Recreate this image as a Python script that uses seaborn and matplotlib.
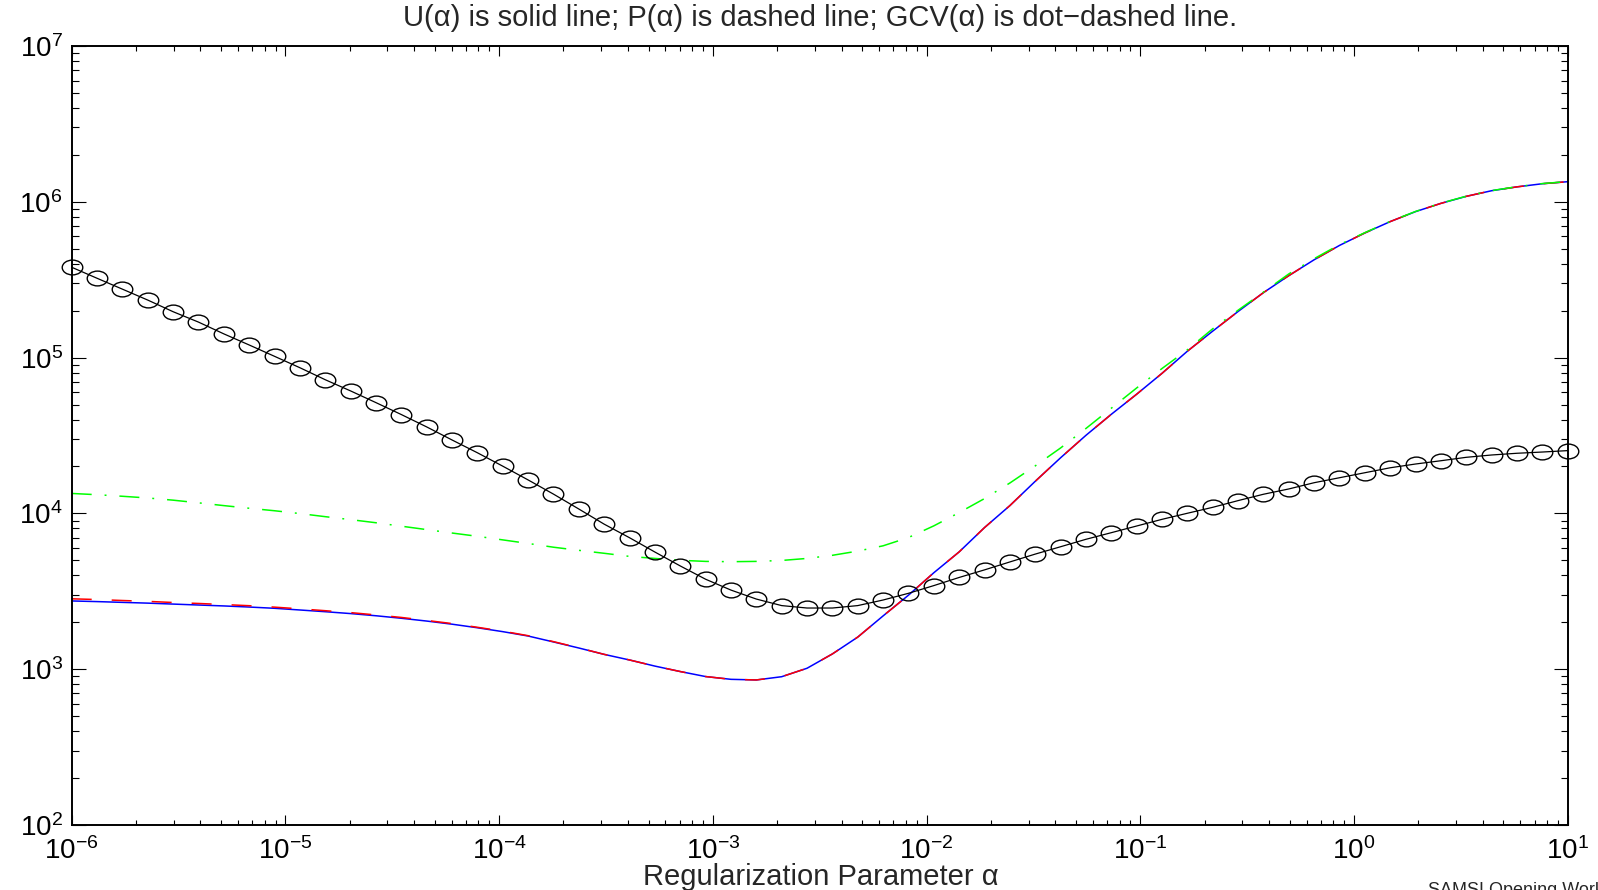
import numpy as np
import pandas as pd
import matplotlib
matplotlib.use("Agg")
import matplotlib.pyplot as plt
import seaborn as sns
from matplotlib.path import Path
from matplotlib.transforms import Affine2D
from matplotlib.ticker import LogLocator, NullFormatter, LogFormatterSciNotation

# Regularization parameter grid (60 log-spaced values, 1e-6 .. 1e1)
alpha = np.logspace(-6, 1, 60)

# U(alpha): solid blue
U = [2742, 2716, 2685, 2655, 2618, 2582, 2547, 2506, 2460, 2399,
     2339, 2275, 2203, 2123, 2037, 1945, 1845, 1742, 1633, 1496,
     1368, 1245, 1146, 1047, 966, 897, 861, 853, 895, 1014,
     1253, 1607, 2198, 2985, 4159, 5662, 8110, 11220, 16070, 22750,
     31700, 43250, 58210, 79250, 109900, 147900, 197700, 261200, 335700, 424600,
     524800, 631000, 746400, 865000, 977200, 1084000, 1178000, 1247000, 1306000, 1346000]

# P(alpha): dashed red
P = [2830, 2800, 2760, 2725, 2680, 2642, 2600, 2556, 2502, 2440,
     2374, 2308, 2230, 2149, 2056, 1963, 1858, 1754, 1641, 1503,
     1371, 1245, 1146, 1047, 966, 897, 861, 853, 895, 1014,
     1253, 1607, 2198, 2985, 4159, 5662, 8110, 11220, 16070, 22750,
     31700, 43250, 58210, 79250, 109900, 147900, 197700, 261200, 335700, 424600,
     524800, 631000, 746400, 865000, 977200, 1084000, 1178000, 1247000, 1306000, 1346000]

# GCV(alpha): dot-dashed green
GCV = [13430, 13180, 12880, 12560, 12160, 11690, 11220, 10790, 10400, 9977,
       9528, 9120, 8710, 8279, 7870, 7482, 7129, 6761, 6412, 6067,
       5794, 5546, 5297, 5140, 5000, 4920, 4898, 4920, 4989, 5140,
       5383, 5728, 6194, 7000, 8318, 10120, 12450, 15670, 20180, 26300,
       35080, 47320, 63830, 85110, 112200, 153100, 201400, 263000, 344400, 431500,
       530900, 633900, 748200, 867000, 979500, 1086000, 1180000, 1250000, 1309000, 1349000]

# Black line with circle markers
ERR = [380000, 323000, 275000, 234000, 197000, 169000, 142000, 120500, 101900, 86100,
       72100, 61100, 51400, 43100, 35900, 29600, 24500, 20100, 16400, 13300,
       10670, 8530, 6980, 5650, 4600, 3780, 3220, 2820, 2560, 2470,
       2470, 2560, 2780, 3070, 3440, 3880, 4340, 4880, 5480, 6110,
       6820, 7520, 8300, 9160, 10020, 10940, 12080, 13270, 14350, 15740,
       16940, 18240, 19630, 20750, 21780, 22910, 23710, 24320, 24770, 25290]

TITLE = "U(\u03b1) is solid line; P(\u03b1) is dashed line; GCV(\u03b1) is dot\u2212dashed line."
XLABEL = "Regularization Parameter \u03b1"
FOOTER = "SAMSI Opening Workshop"

sns.set_style("ticks")
plt.rcParams['font.family'] = ['Liberation Sans', 'DejaVu Sans']
plt.rcParams['mathtext.fontset'] = 'custom'
plt.rcParams['mathtext.rm'] = 'Liberation Sans'
plt.rcParams['mathtext.it'] = 'Liberation Sans:italic'
plt.rcParams['mathtext.bf'] = 'Liberation Sans:bold'
plt.rcParams['lines.scale_dashes'] = False

W, H = 1598, 890
L, R, T, B = 71.7, 1567.7, 46.0, 825.0
fig = plt.figure(figsize=(W / 100, H / 100), dpi=100)
ax = fig.add_axes([L / W, 1 - B / H, (R - L) / W, (B - T) / H])
ax.set_xscale('log')
ax.set_yscale('log')

df = pd.DataFrame({"alpha": alpha, "U": U, "P": P, "GCV": GCV, "ERR": ERR})

sns.lineplot(data=df, x="alpha", y="U", ax=ax, color=(0, 0, 1), lw=1.1,
             linestyle='-', clip_on=False)
sns.lineplot(data=df, x="alpha", y="P", ax=ax, color=(1, 0, 0), lw=1.1,
             linestyle=(0, (14.4, 14.4)), clip_on=False)
sns.lineplot(data=df, x="alpha", y="GCV", ax=ax, color=(0, 1, 0), lw=1.1,
             linestyle=(0, (14.4, 9.3, 1.4, 9.3)), clip_on=False)
ellipse = Path.unit_circle().transformed(Affine2D().scale(1.0, 0.72))
sns.lineplot(data=df, x="alpha", y="ERR", ax=ax, color='black', lw=0.9,
             marker=ellipse, markersize=14.8, markerfacecolor='none',
             markeredgecolor='black', markeredgewidth=1.0, clip_on=False)

ax.set_xlim(1e-6, 10)
ax.set_ylim(1e2, 1e7)

for a in (ax.xaxis, ax.yaxis):
    a.set_major_locator(LogLocator(base=10, numticks=20))
    a.set_minor_locator(LogLocator(base=10, subs=np.arange(2, 10), numticks=100))
    a.set_minor_formatter(NullFormatter())
    a.set_major_formatter(LogFormatterSciNotation(base=10))

ax.tick_params(axis='both', which='both', direction='in', top=True, right=True,
               width=0.8, color='black', labelcolor='black', labelsize=20)
ax.tick_params(axis='y', which='major', length=10, pad=6.5)
ax.tick_params(axis='y', which='minor', length=5)
ax.tick_params(axis='x', which='major', length=7, pad=8.5)
ax.tick_params(axis='x', which='minor', length=3.5)
for s in ax.spines.values():
    s.set_linewidth(1.4)
    s.set_color('black')
    s.set_visible(True)

ax.set_ylabel("")
ax.set_xlabel(XLABEL, fontsize=21)
ax.xaxis.label.set_va('baseline')
ax.xaxis.set_label_coords((821 - L) / (R - L), (B - 885) / (B - T))

fig.text((L + R) / 2 / W, 1 - 26.5 / H, TITLE, ha='center', va='baseline', fontsize=21)
fig.text(1428 / W, 1 - 882 / H, FOOTER, ha='left', va='top', fontsize=13)

fig.savefig("out.png", dpi=100)
